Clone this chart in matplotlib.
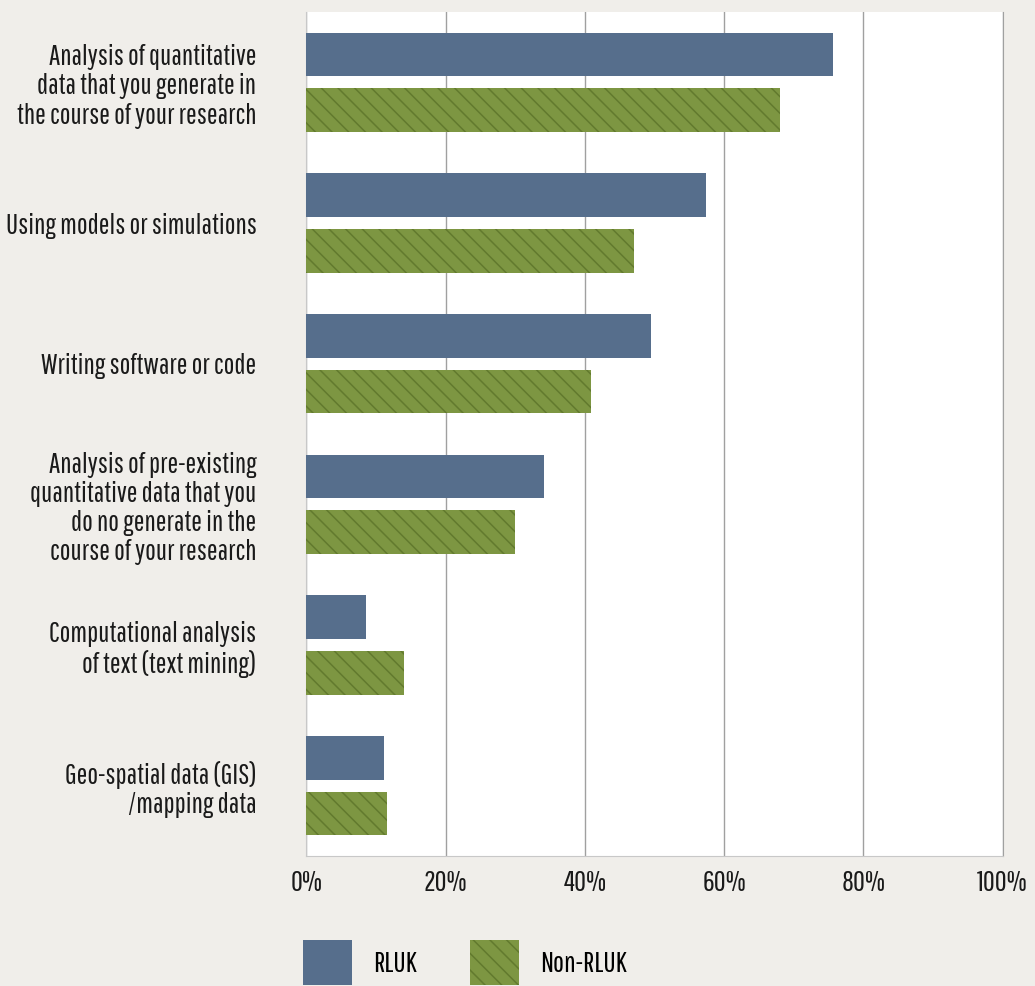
import numpy as np
import matplotlib
matplotlib.use('Agg')
import matplotlib.pyplot as plt
from matplotlib.patches import Patch
from matplotlib.ticker import PercentFormatter

plt.rcParams['font.family'] = ['Pathway Gothic One', 'Roboto Condensed', 'DejaVu Sans']
plt.rcParams['hatch.linewidth'] = 1.1

categories = [
    'Analysis of quantitative\ndata that you generate in\nthe course of your research',
    'Using models or simulations',
    'Writing software or code',
    'Analysis of pre-existing\nquantitative data that you\ndo no generate in the\ncourse of your research',
    'Computational analysis\nof text (text mining)',
    'Geo-spatial data (GIS)\n/mapping data',
]
rluk = [75.7, 57.4, 49.5, 34.1, 8.5, 11.2]
non_rluk = [68.0, 47.0, 40.9, 29.9, 14.0, 11.5]
xticks = [0, 20, 40, 60, 80, 100]

bg = '#f0eeea'
blue = '#566e8c'
green = '#7d9642'
hatch_col = '#627a2e'

fig = plt.figure(figsize=(10.35, 9.86), dpi=100, facecolor=bg)
ax = fig.add_axes([0.2961, 0.1318, 0.6725, 0.856])
ax.set_facecolor('white')

# two bars per category, RLUK above Non-RLUK
y = np.arange(len(categories))
h = 0.31
off = 0.198
ax.barh(y - off, rluk, height=h, color=blue, linewidth=0, zorder=3)
ax.barh(y + off, non_rluk, height=h, color=green, edgecolor=hatch_col,
        hatch='\\\\', linewidth=0, zorder=3)

ax.set_xlim(0, 100)
ax.set_ylim(len(categories) - 0.5, -0.5)
ax.set_xticks(xticks)
ax.xaxis.set_major_formatter(PercentFormatter(decimals=0))
ax.set_yticks(y)
ax.set_yticklabels(categories, linespacing=1.15)
ax.tick_params(axis='x', length=0, pad=10, labelsize=21, labelcolor='#1a1a1a')
ax.tick_params(axis='y', length=0, pad=36, labelsize=20.5, labelcolor='#1a1a1a')

ax.grid(axis='x', color='#a0a0a0', linewidth=1.0, zorder=1)
ax.grid(axis='y', visible=False)
ax.spines['top'].set_visible(False)
ax.spines['left'].set_color('#c8c8c8')
ax.spines['bottom'].set_color('#c8c8c8')
ax.spines['right'].set_color('#a0a0a0')

handles = [
    Patch(facecolor=blue, linewidth=0, label='RLUK'),
    Patch(facecolor=green, edgecolor=hatch_col, hatch='\\\\', linewidth=0, label='Non-RLUK'),
]
fig.legend(handles=handles, loc='upper left', bbox_to_anchor=(303 / 1035, 1 - 940 / 986),
           ncol=2, frameon=False, fontsize=21, borderpad=0, borderaxespad=0,
           handlelength=1.68, handleheight=2.0, handletextpad=0.72,
           columnspacing=1.83)

fig.savefig('out.png', dpi=100, facecolor=bg)
